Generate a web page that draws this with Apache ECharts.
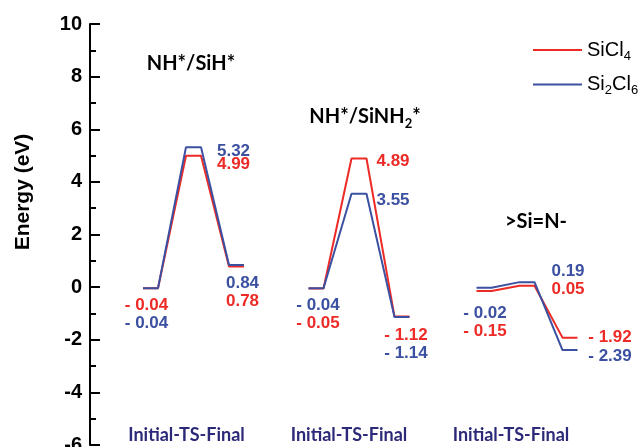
<!DOCTYPE html>
<html>
<head>
<meta charset="utf-8">
<script src="https://cdn.jsdelivr.net/npm/echarts@6/dist/echarts.min.js"></script>
<style>html,body{margin:0;padding:0;background:#fff}#c{width:642px;height:447px}</style>
</head>
<body>
<div id="c"></div>
<script>
// ---- data ----
var groupTitles = ['NH*/SiH*', 'NH*/SiNH{s|2}*', '>Si=N-'];
var stepLabels = ['Initial-TS-Final', 'Initial-TS-Final', 'Initial-TS-Final'];
var seriesNames = ['SiCl4', 'Si2Cl6'];
var sicl4 = [[-0.04, 4.99, 0.78], [-0.05, 4.89, -1.12], [-0.15, 0.05, -1.92]];
var si2cl6 = [[-0.04, 5.32, 0.84], [-0.04, 3.55, -1.14], [-0.02, 0.19, -2.39]];
var yTicks = [-6, -4, -2, 0, 2, 4, 6, 8, 10];

// ---- layout ----
var RED = '#ec2b27', BLUE = '#3b50a1', NAVY = '#2c2a78';
var groupBase = [60.5, 226, 394]; // x units (1 unit = 1px of grid)
var step = 43, halfW = 7.5;
// label offsets (px) relative to level centre: [series][group][level]
var offs = [
  [[[-4, 17], [40, 8], [6, 34.5]], [[2, 35], [34, 3], [4, 18.5]], [[1, 40], [41, 4], [40, 0]]],
  [[[-4, 35], [40, 4], [6, 18]], [[2, 17], [34, 6.5], [4, 36]], [[1, 25.5], [41, -11], [40, 6]]]
];
var allVals = [sicl4, si2cl6];
var colors = [RED, BLUE];

function fmt(v) { return v < 0 ? '- ' + Math.abs(v).toFixed(2) : v.toFixed(2); }
function cx(g, k) { return groupBase[g] + k * step; }

var series = [];
for (var g = 0; g < 3; g++) {
  for (var s = 0; s < 2; s++) {
    var pts = [];
    for (var k = 0; k < 3; k++) {
      var e = allVals[s][g][k];
      pts.push([cx(g, k) - halfW, e], [cx(g, k) + halfW, e]);
    }
    series.push({
      name: seriesNames[s], type: 'line', data: pts, symbol: 'none',
      lineStyle: { color: colors[s], width: 2 }, itemStyle: { color: colors[s] },
      z: 2 + s, animation: false, silent: true
    });
  }
}

var chart = echarts.init(document.getElementById('c'), null, { renderer: 'canvas' });
var sub = { fontSize: 13, fontFamily: 'Liberation Sans, Arial', padding: [12, 0, 0, 0] };
chart.setOption({
  animation: false,
  grid: { left: 90, top: 24, width: 540, bottom: 2, containLabel: false, outerBoundsMode: 'none' },
  xAxis: { type: 'value', min: 0, max: 540, show: false },
  yAxis: {
    type: 'value', min: yTicks[0], max: yTicks[yTicks.length - 1], interval: 2,
    axisLine: { show: true, lineStyle: { color: '#000', width: 2 } },
    axisTick: { show: true, inside: true, length: 10, lineStyle: { color: '#000', width: 2 } },
    minorTick: { show: true, splitNumber: 2, length: 6, lineStyle: { color: '#000', width: 2 } },
    splitLine: { show: false },
    axisLabel: { color: '#000', fontSize: 20, fontWeight: 'bold', fontFamily: 'Liberation Sans, Arial', margin: 8 }
  },
  legend: {
    orient: 'vertical', left: 533, top: 40, padding: 0, itemWidth: 49, itemHeight: 14, itemGap: 12,
    data: seriesNames, icon: 'path://M0,0L49,0L49,2L0,2Z',
    formatter: function (n) { return n === 'SiCl4' ? '{a|SiCl}{s|4}' : '{a|Si}{s|2}{a|Cl}{s|6}'; },
    textStyle: { color: '#000', rich: { a: { fontSize: 20, fontFamily: 'Liberation Sans, Arial', color: '#000' }, s: sub } }
  },
  series: series
});

var gr = [];
// value labels
for (var s2 = 0; s2 < 2; s2++) for (var g2 = 0; g2 < 3; g2++) for (var k2 = 0; k2 < 3; k2++) {
  var v = allVals[s2][g2][k2];
  var p = chart.convertToPixel({ gridIndex: 0 }, [cx(g2, k2), v]);
  var o = offs[s2][g2][k2];
  gr.push({ type: 'text', x: p[0] + o[0], y: p[1] + o[1], z: 10,
    style: { text: fmt(v), fill: colors[s2], font: 'bold 17px "Liberation Sans", Arial', textAlign: 'center', textVerticalAlign: 'middle' } });
}
// group titles
var titlePos = [[191, 64], [365, 117], [536, 222]];
for (var t = 0; t < 3; t++) {
  gr.push({ type: 'text', x: titlePos[t][0], y: titlePos[t][1], z: 10,
    style: { text: groupTitles[t], fill: '#000', font: 'bold 20px Lato', textAlign: 'center', textVerticalAlign: 'middle',
      rich: { s: { fontSize: 13, fontFamily: 'Lato', fontWeight: 'bold', padding: [14, 0, 0, 0] } } } });
}
// step labels
var stepX = [186.5, 349, 511];
for (var q = 0; q < 3; q++) {
  gr.push({ type: 'text', x: stepX[q], y: 435, z: 10,
    style: { text: stepLabels[q], fill: NAVY, font: 'bold 18px Lato', textAlign: 'center', textVerticalAlign: 'middle' } });
}
// y axis name
gr.push({ type: 'text', x: 23, y: 192, rotation: Math.PI / 2, z: 10,
  style: { text: 'Energy (eV)', fill: '#000', font: 'bold 21px "Liberation Sans", Arial', textAlign: 'center', textVerticalAlign: 'middle' } });
chart.setOption({ graphic: gr });
</script>
</body>
</html>
